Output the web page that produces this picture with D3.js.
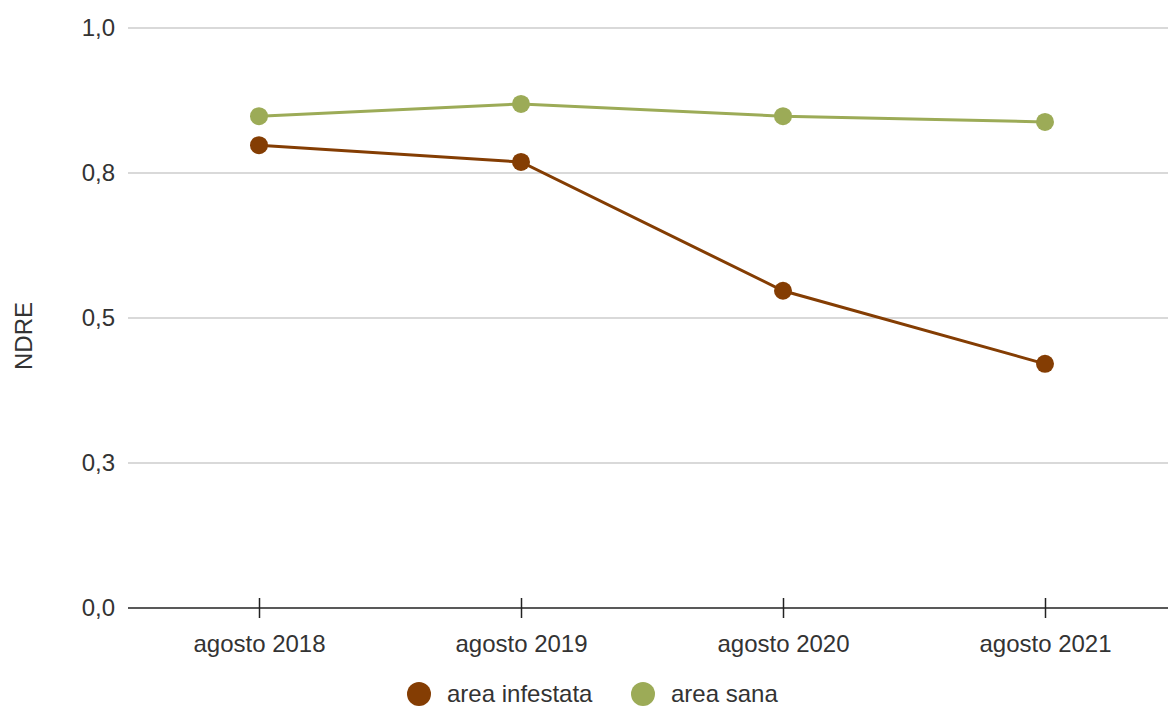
<!DOCTYPE html>
<html>
<head>
<meta charset="utf-8">
<script src="https://cdn.jsdelivr.net/npm/d3@7"></script>
<style>
  body { margin: 0; background: #fff; }
  text { font-family: "Liberation Sans", Arial, sans-serif; }
</style>
</head>
<body>
<svg id="chart"></svg>
<script>
var categories = ["agosto 2018", "agosto 2019", "agosto 2020", "agosto 2021"];
var infestata = [0.798, 0.769, 0.547, 0.421];
var sana = [0.848, 0.869, 0.848, 0.838];
var yTicks = [0, 0.25, 0.5, 0.75, 1.0];
var seriesNames = ["area infestata", "area sana"];
var seriesColors = ["#843d03", "#9cab57"];

var width = 1168, height = 706;
var margin = { top: 28, left: 128, bottom: 98 };
var font = "'Liberation Sans', Arial, sans-serif";

var svg = d3.select("#chart")
  .attr("width", width)
  .attr("height", height);

var x = d3.scalePoint()
  .domain(categories)
  .range([margin.left + 131, margin.left + 131 + 262 * 3]);

var y = d3.scaleLinear()
  .domain([0, 1])
  .range([height - margin.bottom, margin.top]);

// grid lines
svg.append("g")
  .selectAll("line")
  .data(yTicks.slice(1))
  .enter().append("line")
    .attr("x1", margin.left)
    .attr("x2", width)
    .attr("y1", function(d) { return y(d); })
    .attr("y2", function(d) { return y(d); })
    .style("stroke", "#cccccc")
    .style("stroke-width", 1.5);

// y labels
svg.append("g")
  .selectAll("text")
  .data(yTicks)
  .enter().append("text")
    .attr("x", margin.left - 13)
    .attr("y", function(d) { return y(d); })
    .attr("dy", "0.35em")
    .style("text-anchor", "end")
    .style("font-size", "24px")
    .style("fill", "#333")
    .text(function(d) { return d3.format(".1f")(d).replace(".", ","); });

// x axis
var xAxis = svg.append("g")
  .attr("transform", "translate(0," + y(0) + ")")
  .call(d3.axisBottom(x).tickSize(10).tickPadding(17));
xAxis.select(".domain")
  .attr("d", "M" + margin.left + ",0H" + width)
  .style("stroke", "#222")
  .style("stroke-width", 1.5);
xAxis.selectAll(".tick line")
  .attr("y1", -10)
  .style("stroke", "#222")
  .style("stroke-width", 1.5);
xAxis.selectAll(".tick text")
  .style("font-size", "24px")
  .style("fill", "#333")
  .style("font-family", font);

// y title
svg.append("text")
  .attr("transform", "translate(32,336) rotate(-90)")
  .style("text-anchor", "middle")
  .style("font-size", "24px")
  .style("fill", "#333")
  .text("NDRE");

var line = d3.line()
  .x(function(d, i) { return x(categories[i]); })
  .y(function(d) { return y(d); });

[infestata, sana].forEach(function(values, s) {
  svg.append("path")
    .datum(values)
    .attr("d", line)
    .style("fill", "none")
    .style("stroke", seriesColors[s])
    .style("stroke-width", 3);

  svg.append("g")
    .selectAll("circle")
    .data(values)
    .enter().append("circle")
      .attr("cx", function(d, i) { return x(categories[i]); })
      .attr("cy", function(d) { return y(d); })
      .attr("r", 9)
      .style("fill", seriesColors[s]);
});

// legend
var legendX = [419, 643];
var legend = svg.selectAll(".legend")
  .data(seriesNames)
  .enter().append("g")
    .attr("class", "legend")
    .attr("transform", function(d, i) { return "translate(" + legendX[i] + ",694)"; });

legend.append("circle")
  .attr("r", 12)
  .style("fill", function(d, i) { return seriesColors[i]; });

legend.append("text")
  .attr("x", 28)
  .attr("dy", "0.35em")
  .style("font-size", "24px")
  .style("fill", "#333")
  .text(function(d) { return d; });
</script>
</body>
</html>
